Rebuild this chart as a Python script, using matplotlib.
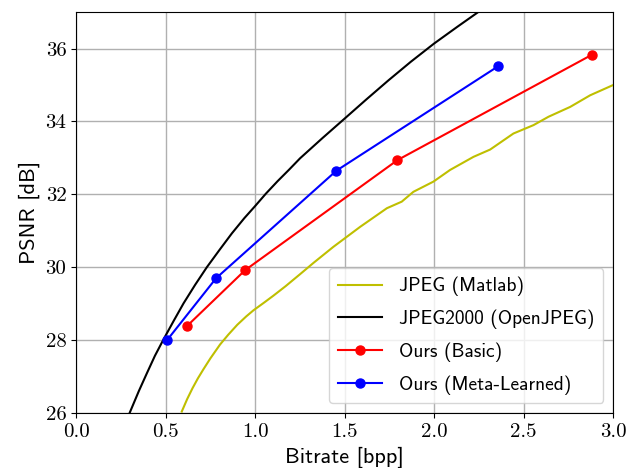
import numpy as np
import matplotlib
matplotlib.use('Agg')
import matplotlib.pyplot as plt

# JPEG (Matlab) curve
jpeg_x = [0.59, 0.62, 0.65, 0.68, 0.711, 0.75, 0.804, 0.85, 0.90, 0.95, 0.991, 1.05,
          1.102, 1.17, 1.251, 1.326, 1.437, 1.587, 1.736, 1.819, 1.884, 1.996, 2.089,
          2.220, 2.313, 2.443, 2.555, 2.639, 2.760, 2.872, 3.0]
jpeg_y = [26.04, 26.38, 26.68, 26.95, 27.2, 27.5, 27.88, 28.15, 28.42, 28.65, 28.82, 29.03,
          29.22, 29.48, 29.81, 30.12, 30.56, 31.11, 31.62, 31.80, 32.07, 32.35, 32.67,
          33.03, 33.23, 33.67, 33.90, 34.13, 34.40, 34.72, 35.0]

# JPEG2000 (OpenJPEG)
j2k_x = [0.29, 0.302, 0.35, 0.395, 0.44, 0.488, 0.545, 0.600, 0.665, 0.730, 0.80,
         0.87, 0.94, 1.0, 1.06, 1.125, 1.19, 1.251, 1.375, 1.5, 1.62, 1.745, 1.87,
         2.0, 2.13, 2.26]
j2k_y = [25.9, 26.04, 26.6, 27.09, 27.57, 28.02, 28.53, 29.01, 29.52, 30.0, 30.47,
         30.93, 31.35, 31.68, 32.02, 32.36, 32.68, 32.99, 33.54, 34.08, 34.6, 35.13, 35.64,
         36.14, 36.6, 37.05]

# Ours (Basic)
basic_x = [0.620, 0.944, 1.795, 2.881]
basic_y = [28.39, 29.92, 32.94, 35.83]

# Ours (Meta-Learned)
meta_x = [0.508, 0.782, 1.454, 2.359]
meta_y = [28.0, 29.70, 32.65, 35.52]

fig = plt.figure(figsize=(6.4, 4.68), dpi=100)
ax = fig.add_axes([0.119, 0.1175, 0.839, 0.8565])

ax.plot(jpeg_x, jpeg_y, color='y', lw=1.5, label='JPEG (Matlab)')
ax.plot(j2k_x, j2k_y, color='k', lw=1.5, label='JPEG2000 (OpenJPEG)')
ax.plot(basic_x, basic_y, color='r', lw=1.5, marker='o', ms=6.5, label='Ours (Basic)')
ax.plot(meta_x, meta_y, color='b', lw=1.5, marker='o', ms=6.5, label='Ours (Meta-Learned)')

ax.set_xlim(0, 3)
ax.set_ylim(26, 37)
xt = np.arange(0, 3.01, 0.5)
ax.set_xticks(xt)
ax.set_yticks([26, 28, 30, 32, 34, 36])
ax.set_xticklabels(['%.1f' % t for t in xt], family='cmr10', fontsize=15)
ax.set_yticklabels(['26', '28', '30', '32', '34', '36'], family='cmr10', fontsize=15)
ax.grid(True, color='#b0b0b0', lw=1)
ax.set_axisbelow(True)

ax.set_xlabel('Bitrate [bpp]', family='cmss10', fontsize=16)
ax.set_ylabel('PSNR [dB]', family='cmss10', fontsize=16)

ax.legend(loc='lower right', prop={'family': 'cmss10', 'size': 14},
          handlelength=2.3, handletextpad=0.87, borderpad=0.45, labelspacing=0.68)

fig.savefig('out.png', dpi=100)
